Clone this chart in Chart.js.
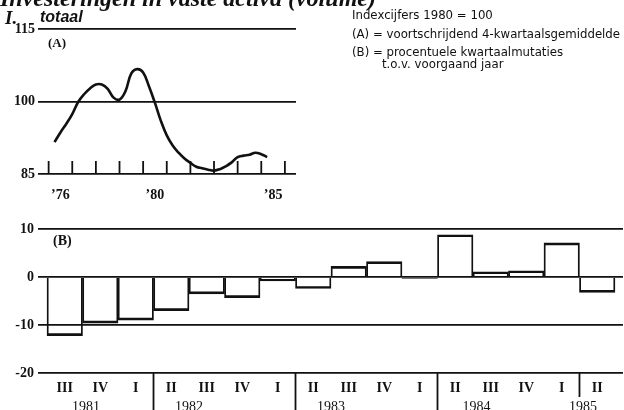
<!DOCTYPE html>
<html lang="nl">
<head>
<meta charset="utf-8">
<title>Investeringen in vaste activa (volume)</title>
<script src="https://cdn.jsdelivr.net/npm/chart.js@4.4.1/dist/chart.umd.min.js"></script>
<style>
  html, body { margin: 0; padding: 0; background: #fff; }
  #page { position: relative; width: 624px; height: 410px; overflow: hidden; background: #fff; color: #111; }
  canvas { position: absolute; left: 0; }
  #chartA { top: 0; }
  #chartB { top: 200px; }
  .txt { position: absolute; white-space: nowrap; line-height: 1; }
  .title { left: 0; top: -15px; font: italic bold 24px "Liberation Serif", serif; }
  .part { left: 5px; top: 7px; font: italic bold 19px "Liberation Serif", serif; }
  .sub { left: 40px; top: 8px; font: italic bold 16px "Liberation Sans", sans-serif; }
  .note { left: 352px; font: 11.75px "DejaVu Sans", sans-serif; }
  .tag { font: bold 13px "Liberation Serif", serif; }
</style>
</head>
<body>
<div id="page">
  <canvas id="chartA" width="300" height="200"></canvas>
  <canvas id="chartB" width="624" height="210"></canvas>

  <div class="txt title">Investeringen in vaste activa (volume)</div>
  <div class="txt part">I.</div>
  <div class="txt sub">totaal</div>

  <div class="txt note" style="top: 8px">Indexcijfers 1980 = 100</div>
  <div class="txt note" style="top: 27px">(A) = voortschrijdend 4-kwartaalsgemiddelde</div>
  <div class="txt note" style="top: 45px">(B) = procentuele kwartaalmutaties</div>
  <div class="txt note" style="top: 57px; left: 382px">t.o.v. voorgaand jaar</div>

  <div class="txt tag" style="left: 48px; top: 35px">(A)</div>
  <div class="txt tag" style="left: 53px; top: 233px; font-size: 14px">(B)</div>
</div>

<script>
// (A) index 1980 = 100, 4-kwartaalsgemiddelde, per kwartaal vanaf 1976
const trendFrom = 1976.25;
const trendValues = [91.6, 93.6, 95.4, 97.4, 99.9, 101.5, 102.7, 103.5, 103.5, 102.6,
                     100.8, 100.4, 102.1, 105.8, 106.7, 106.0, 103.1, 99.7, 96.0, 93.0,
                     90.9, 89.4, 88.2, 87.3, 86.5, 86.2, 85.9, 85.7, 86.0, 86.6,
                     87.4, 88.5, 88.8, 89.0, 89.4, 89.1, 88.5];
const tickYears = [1976, 1977, 1978, 1979, 1980, 1981, 1982, 1983, 1984, 1985, 1986];
const labelYears = [1976, 1980, 1985];

// (B) procentuele kwartaalmutaties
const quarters = ['III', 'IV', 'I', 'II', 'III', 'IV', 'I', 'II', 'III', 'IV', 'I', 'II', 'III', 'IV', 'I', 'II'];
const mutations = [-12.2, -9.6, -9.0, -7.0, -3.5, -4.3, -0.8, -2.4, 2.2, 3.2, -0.3, 8.8, 1.1, 1.3, 7.1, -3.2];
const years = ['1981', '1982', '1983', '1984', '1985'];
const yearAt = [0.6, 3.5, 7.5, 11.6, 14.6];

const ink = '#111';
const serif = { family: '"Liberation Serif", serif', size: 14, weight: 'bold' };

// kleine streepjes per jaar op de 85-lijn
const yearTicks = {
  id: 'yearTicks',
  afterDatasetsDraw(chart) {
    const { ctx, chartArea, scales: { x } } = chart;
    ctx.save();
    ctx.strokeStyle = ink;
    ctx.lineWidth = 1.8;
    tickYears.forEach(yr => {
      const px = x.getPixelForValue(yr);
      ctx.beginPath();
      ctx.moveTo(px, chartArea.bottom);
      ctx.lineTo(px, chartArea.bottom - 13);
      ctx.stroke();
    });
    ctx.restore();
  }
};

// jaarscheidingen en jaartallen onder de kwartalen
const yearGroups = {
  id: 'yearGroups',
  afterDraw(chart) {
    const { ctx, chartArea, scales: { x } } = chart;
    ctx.save();
    ctx.strokeStyle = ink;
    ctx.lineWidth = 1.8;
    quarters.forEach((q, i) => {
      if (i === 0 || q !== 'II') return;
      const px = x.getPixelForValue(i - 0.5);
      const nearLabel = yearAt.some(p => Math.abs(p - (i - 0.5)) < 0.5);
      ctx.beginPath();
      ctx.moveTo(px, chartArea.bottom);
      ctx.lineTo(px, nearLabel ? chartArea.bottom + 24 : chart.height);
      ctx.stroke();
    });
    ctx.fillStyle = ink;
    ctx.font = '14px "Liberation Serif"';
    ctx.textAlign = 'center';
    years.forEach((label, k) => {
      ctx.fillText(label, x.getPixelForValue(yearAt[k]), chartArea.bottom + 38);
    });
    ctx.restore();
  }
};

new Chart(document.getElementById('chartA'), {
  type: 'line',
  data: {
    datasets: [{
      data: trendValues.map((v, i) => ({ x: trendFrom + i / 4, y: v })),
      borderColor: ink,
      borderWidth: 2.6,
      pointRadius: 0,
      tension: 0.4,
      fill: false
    }]
  },
  options: {
    responsive: false,
    animation: false,
    layout: { padding: { top: 29, right: 4, left: 0, bottom: 0 } },
    plugins: { legend: { display: false }, tooltip: { enabled: false } },
    scales: {
      x: {
        type: 'linear',
        min: 1975.55,
        max: 1986.47,
        grid: { display: false },
        border: { display: false },
        afterBuildTicks: axis => { axis.ticks = labelYears.map(y => ({ value: y + 0.5 })); },
        afterFit: axis => { axis.height = 26; },
        ticks: {
          padding: 5,
          autoSkip: false,
          maxRotation: 0,
          color: ink,
          font: serif,
          callback: v => '\u2019' + String(Math.floor(v)).slice(2)
        }
      },
      y: {
        min: 85,
        max: 115,
        grid: { color: ink, lineWidth: 1.8, drawTicks: false },
        border: { display: false },
        afterFit: axis => { axis.width = 38; },
        ticks: { stepSize: 15, padding: 3, color: ink, font: serif }
      }
    }
  },
  plugins: [yearTicks]
});

new Chart(document.getElementById('chartB'), {
  type: 'bar',
  data: {
    datasets: [{
      data: mutations.map((v, i) => ({ x: i, y: v })),
      backgroundColor: 'rgba(0,0,0,0)',
      borderColor: ink,
      borderWidth: { top: 2, bottom: 2, left: 1.2, right: 1.2 },
      borderSkipped: 'start',
      categoryPercentage: 1,
      barPercentage: 1
    }]
  },
  options: {
    responsive: false,
    animation: false,
    layout: { padding: { top: 29, right: 1, left: 0, bottom: 0 } },
    plugins: { legend: { display: false }, tooltip: { enabled: false } },
    scales: {
      x: {
        type: 'linear',
        offset: false,
        min: -0.754,
        max: 15.726,
        grid: { display: false, offset: false },
        border: { display: false },
        afterBuildTicks: axis => { axis.ticks = quarters.map((q, i) => ({ value: i })); },
        afterFit: axis => { axis.height = 37; },
        ticks: {
          padding: -1,
          autoSkip: false,
          maxRotation: 0,
          color: ink,
          font: serif,
          callback: v => quarters[v]
        }
      },
      y: {
        min: -20,
        max: 10,
        grid: { color: ink, lineWidth: 1.8, drawTicks: false },
        border: { display: false },
        afterFit: axis => { axis.width = 38; },
        ticks: { stepSize: 10, padding: 4, color: ink, font: serif }
      }
    }
  },
  plugins: [yearGroups]
});
</script>
</body>
</html>
